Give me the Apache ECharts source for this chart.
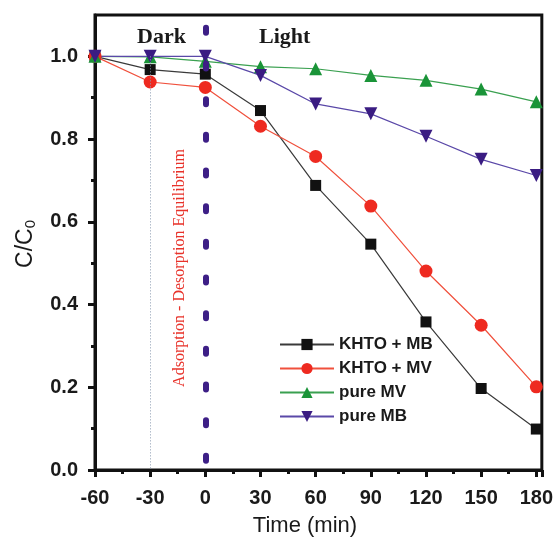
<!DOCTYPE html>
<html>
<head>
<meta charset="utf-8">
<script src="https://cdn.jsdelivr.net/npm/echarts@6/dist/echarts.min.js"></script>
<style>
  html, body { margin: 0; padding: 0; background: #fff; }
  #chart { width: 556px; height: 537px; }
</style>
</head>
<body>
<div id="chart"></div>
<script>
// Sampling times (min); negative times are the dark adsorption stage
const times = [-60, -30, 0, 30, 60, 90, 120, 150, 180];

// Normalised concentration C/C0 for each system
const khtoMB = [1.0, 0.968, 0.957, 0.869, 0.688, 0.546, 0.358, 0.197, 0.099];
const khtoMV = [1.0, 0.938, 0.925, 0.831, 0.758, 0.638, 0.481, 0.350, 0.201];
const pureMV = [1.0, 0.999, 0.988, 0.975, 0.970, 0.954, 0.942, 0.921, 0.890];
const pureMB = [1.0, 1.0, 1.0, 0.954, 0.885, 0.861, 0.807, 0.751, 0.712];

const seriesNames = ['KHTO + MB', 'KHTO + MV', 'pure MV', 'pure MB'];

// Labelled y ticks
const yTicks = [0, 0.2, 0.4, 0.6, 0.8, 1.0];

const pairs = (ys) => times.map((t, i) => [t, ys[i]]);

const chart = echarts.init(document.getElementById('chart'));

const tickFont = { fontFamily: 'Liberation Sans, Arial', fontWeight: 'bold', fontSize: 20, color: '#1a1a1a' };

function lineSeries(name, data, lineColor, markColor, symbol, size) {
  return {
    name: name,
    type: 'line',
    data: pairs(data),
    symbol: symbol,
    symbolSize: size,
    lineStyle: { color: lineColor, width: 1.2 },
    itemStyle: { color: markColor, borderWidth: 0 },
    emphasis: { disabled: true },
    animation: false
  };
}

chart.setOption({
  animation: false,
  grid: { left: 95, right: 12, top: 15, bottom: 67, show: true, borderColor: '#111', borderWidth: 3, backgroundColor: 'transparent' },
  xAxis: {
    type: 'value', min: -60, max: 183, interval: 30,
    axisLine: { show: true, onZero: false, lineStyle: { color: '#111', width: 3 } },
    axisTick: { show: true, inside: false, length: 7, lineStyle: { color: '#111', width: 3 } },
    minorTick: { show: true, splitNumber: 2, length: 4, lineStyle: { color: '#111', width: 3 } },
    axisLabel: Object.assign({ margin: 18 }, tickFont),
    splitLine: { show: false }
  },
  yAxis: {
    type: 'value', min: 0, max: 1.1, interval: 0.2,
    axisLine: { show: true, onZero: false, lineStyle: { color: '#111', width: 3 } },
    axisTick: { show: true, length: 7, customValues: yTicks, lineStyle: { color: '#111', width: 3 } },
    minorTick: { show: true, splitNumber: 2, length: 4, lineStyle: { color: '#111', width: 3 } },
    axisLabel: Object.assign({ margin: 17, customValues: yTicks, formatter: (v) => v.toFixed(1) }, tickFont),
    splitLine: { show: false }
  },
  legend: {
    orient: 'vertical', left: 274, top: 331, itemGap: 7,
    itemWidth: 54, itemHeight: 14,
    textStyle: { fontFamily: 'Liberation Sans, Arial', fontWeight: 'bold', fontSize: 17, color: '#1a1a1a' },
    data: seriesNames
  },
  series: [
    lineSeries(seriesNames[0], khtoMB, '#3a3a3a', '#111111', 'rect', 11),
    lineSeries(seriesNames[1], khtoMV, '#f0503c', '#ee2a20', 'circle', 13),
    lineSeries(seriesNames[2], pureMV, '#3aa050', '#1a9438', 'triangle', 13),
    lineSeries(seriesNames[3], pureMB, '#5a48a8', '#3a1c82', 'path://M0,0 L10,0 L5,9 Z', 13),
    {
      // dark / light boundary markers
      type: 'line', data: [], silent: true, z: 1,
      markLine: {
        silent: true, symbol: 'none', animation: false, label: { show: false },
        data: [
          { xAxis: 0, lineStyle: { color: '#3d1f86', width: 6, type: [5, 30.67], cap: 'round', dashOffset: 26.5 } },
          [{ coord: [-30, 1.0] }, { coord: [-30, 0] }]
        ],
        lineStyle: { color: '#8a9ab0', width: 1, type: [1, 2] }
      }
    }
  ],
  graphic: [
    { type: 'text', left: 137, top: 26, style: { text: 'Dark', font: 'bold 22px "Liberation Serif", "Times New Roman", serif', fill: '#1a1a1a' } },
    { type: 'text', left: 259, top: 26, style: { text: 'Light', font: 'bold 22px "Liberation Serif", "Times New Roman", serif', fill: '#1a1a1a' } },
    {
      type: 'text', x: 180, y: 268, rotation: Math.PI / 2,
      style: { text: 'Adsorption - Desorption Equilibrium', font: '16px "Liberation Serif", "Times New Roman", serif', fill: '#e8322a', align: 'center', verticalAlign: 'middle' }
    },
    {
      // x-axis title
      type: 'text', x: 305, y: 526,
      style: { text: 'Time (min)', font: '22px "Liberation Sans", Arial, sans-serif', fill: '#1a1a1a', align: 'center', verticalAlign: 'middle' }
    },
    {
      // y-axis title C/C0 with subscript
      type: 'text', x: 26, y: 244, rotation: Math.PI / 2,
      style: {
        text: 'C/C{sub|0}', font: '23px "Liberation Sans", Arial, sans-serif', fill: '#1a1a1a',
        align: 'center', verticalAlign: 'middle',
        rich: { sub: { font: '15px "Liberation Sans", Arial, sans-serif', fill: '#1a1a1a', verticalAlign: 'bottom', padding: [10, 0, 0, 0] } }
      }
    }
  ]
});
</script>
</body>
</html>
